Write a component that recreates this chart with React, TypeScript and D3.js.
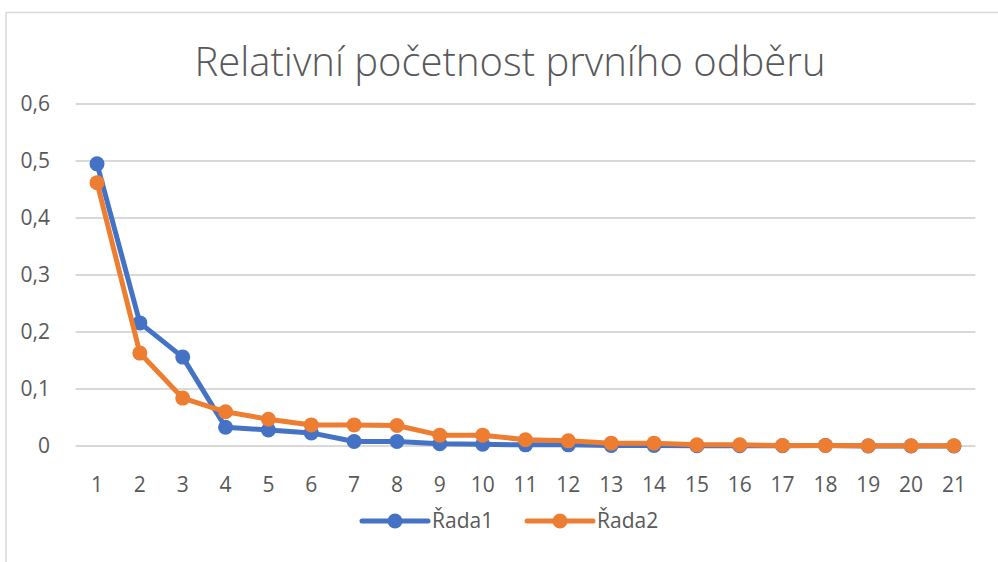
import React, { useEffect, useRef } from 'react';
import * as d3 from 'd3';

const categories = ['1', '2', '3', '4', '5', '6', '7', '8', '9', '10', '11', '12', '13', '14', '15', '16', '17', '18', '19', '20', '21'];
const rada1 = [0.495, 0.216, 0.156, 0.033, 0.028, 0.023, 0.008, 0.008, 0.004, 0.003, 0.002, 0.002, 0.001, 0.001, 0.0005, 0.0005, 0.0005, 0.001, 0, 0, 0];
const rada2 = [0.462, 0.163, 0.084, 0.06, 0.047, 0.037, 0.037, 0.036, 0.019, 0.019, 0.011, 0.009, 0.005, 0.005, 0.002, 0.002, 0.001, 0.001, 0.0005, 0.0005, 0.0005];
const yTicks = [0, 0.1, 0.2, 0.3, 0.4, 0.5, 0.6];
const seriesNames = ['Řada1', 'Řada2'];
const colors = ['#4472C4', '#ED7D31'];

export default function App() {
  const ref = useRef<SVGSVGElement>(null);

  useEffect(() => {
    const svg = d3.select(ref.current);
    svg.selectAll('*').remove();
    const font = "'Open Sans', 'Noto Sans', sans-serif";

    svg.append('rect')
      .attr('x', 6).attr('y', 12.5)
      .attr('width', 1000).attr('height', 600)
      .attr('fill', '#fff').attr('stroke', '#d9d9d9').attr('stroke-width', 1.5);

    svg.append('text')
      .attr('x', 510).attr('y', 76)
      .attr('text-anchor', 'middle')
      .style('font-family', font).style('font-size', '40px').style('font-weight', 300)
      .attr('fill', '#595959')
      .text('Relativní početnost prvního odběru');

    const x = d3.scaleBand().domain(categories).range([75.6, 975.4]);
    const y = d3.scaleLinear().domain([0, 0.6]).range([446, 104]);
    const cx = (c: string) => (x(c) || 0) + x.bandwidth() / 2;

    yTicks.forEach(t => {
      svg.append('line')
        .attr('x1', 75.6).attr('x2', 975.4)
        .attr('y1', y(t)).attr('y2', y(t))
        .attr('stroke', '#d9d9d9').attr('stroke-width', 2);
      svg.append('text')
        .attr('x', 50).attr('y', y(t)).attr('dy', '0.35em')
        .attr('text-anchor', 'end')
        .style('font-family', font).style('font-size', '21px')
        .attr('fill', '#595959')
        .text(t === 0 ? '0' : d3.format('.1f')(t).replace('.', ','));
    });

    categories.forEach(c => {
      svg.append('text')
        .attr('x', cx(c)).attr('y', 485).attr('dy', '0.35em')
        .attr('text-anchor', 'middle')
        .style('font-family', font).style('font-size', '21px')
        .attr('fill', '#595959')
        .text(c);
    });

    const line = d3.line<number>()
      .x((_, i) => cx(categories[i]))
      .y(d => y(d));

    [rada1, rada2].forEach((vals, si) => {
      svg.append('path')
        .datum(vals)
        .attr('fill', 'none')
        .attr('stroke', colors[si])
        .attr('stroke-width', 5)
        .attr('stroke-linejoin', 'round')
        .attr('d', line);
      svg.selectAll(`.dot-${si}`)
        .data(vals)
        .enter()
        .append('circle')
        .attr('class', `dot-${si}`)
        .attr('cx', (_, i) => cx(categories[i]))
        .attr('cy', d => y(d))
        .attr('r', 7.5)
        .attr('fill', colors[si]);
    });

    const legendX = [362, 527];
    seriesNames.forEach((name, i) => {
      const g = svg.append('g').attr('transform', `translate(${legendX[i]},521)`);
      g.append('line')
        .attr('x1', 0).attr('x2', 66)
        .attr('stroke', colors[i]).attr('stroke-width', 5).attr('stroke-linecap', 'round');
      g.append('circle').attr('cx', 33).attr('r', 7.5).attr('fill', colors[i]);
      g.append('text')
        .attr('x', 70).attr('dy', '0.35em')
        .style('font-family', font).style('font-size', '21px')
        .attr('fill', '#595959')
        .text(name);
    });
  }, []);

  return (
    <svg
      ref={ref}
      width={998}
      height={562}
      style={{ position: 'absolute', left: 0, top: 0 }}
    ></svg>
  );
}
